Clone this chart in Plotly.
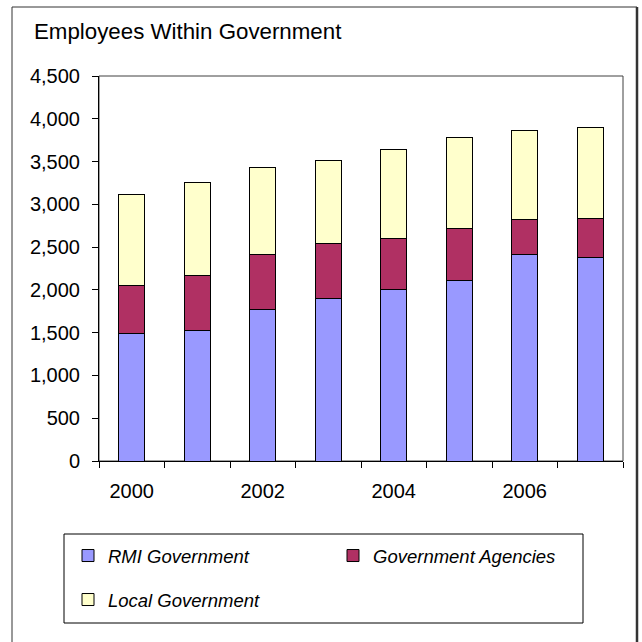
import plotly.graph_objects as go

# Employees within government, by year
years = ["2000", "2001", "2002", "2003", "2004", "2005", "2006", "2007"]
rmi_government = [1485, 1530, 1775, 1895, 2005, 2110, 2410, 2380]
government_agencies = [570, 635, 640, 650, 595, 610, 410, 450]
local_government = [1060, 1085, 1015, 965, 1045, 1065, 1040, 1070]

year_labels = ["2000", "", "2002", "", "2004", "", "2006", ""]
y_ticks = [0, 500, 1000, 1500, 2000, 2500, 3000, 3500, 4000, 4500]

W, H = 642, 642
L, R, T, B = 99, 19, 76, 181
PW, PH = W - L - R, H - T - B

FONT = "Liberation Sans, Arial, sans-serif"


def px_x(x):
    return (x - L) / PW


def px_y(y):
    return (H - B - y) / PH


series = [
    ("RMI Government", rmi_government, "#9999FF", "legend"),
    ("Government Agencies", government_agencies, "#B03063", "legend"),
    ("Local Government", local_government, "#FFFFCC", "legend2"),
]

fig = go.Figure()
for name, vals, color, leg in series:
    fig.add_trace(go.Bar(
        x=years, y=vals, name=name,
        marker=dict(color=color, line=dict(color="#000000", width=1)),
        legend=leg,
    ))

legend_common = dict(
    orientation="h",
    traceorder="normal",
    xref="paper", yref="paper",
    xanchor="left", yanchor="middle",
    font=dict(family=FONT, size=18.5, color="#000000", style="italic"),
    bgcolor="rgba(0,0,0,0)", borderwidth=0,
    itemwidth=30, entrywidth=220, entrywidthmode="pixels",
    itemclick=False, itemdoubleclick=False,
)

shapes = [
    # outer chart frame
    dict(type="line", xref="paper", yref="paper",
         x0=px_x(12), x1=px_x(637), y0=px_y(7), y1=px_y(7),
         line=dict(color="#333333", width=1)),
    dict(type="line", xref="paper", yref="paper",
         x0=px_x(12), x1=px_x(12), y0=px_y(7), y1=px_y(660),
         line=dict(color="#333333", width=1)),
    dict(type="line", xref="paper", yref="paper",
         x0=px_x(637), x1=px_x(637), y0=px_y(7), y1=px_y(660),
         line=dict(color="#333333", width=2.5)),
    # plot area frame
    dict(type="rect", xref="paper", yref="paper",
         x0=0, x1=1, y0=0, y1=1, layer="below",
         line=dict(color="#404040", width=1)),
    # legend box
    dict(type="rect", xref="paper", yref="paper",
         x0=px_x(64), x1=px_x(583), y0=px_y(623), y1=px_y(534),
         line=dict(color="#000000", width=1)),
]

fig.update_layout(
    width=W, height=H,
    margin=dict(l=L, r=R, t=T, b=B),
    paper_bgcolor="#FFFFFF", plot_bgcolor="#FFFFFF",
    barmode="stack", bargap=0.6,
    font=dict(family=FONT, size=20, color="#000000"),
    title=dict(
        text="Employees Within Government",
        font=dict(family=FONT, size=22.3, color="#000000"),
        xref="container", yref="container",
        x=34 / W, xanchor="left",
        y=1 - 31 / H, yanchor="middle",
    ),
    xaxis=dict(
        type="category",
        tickmode="array", tickvals=years, ticktext=year_labels,
        tickson="boundaries",
        ticks="outside", ticklen=6, tickcolor="#000000", tickwidth=1,
        showline=True, linecolor="#000000", linewidth=1,
        showgrid=False, zeroline=False,
        ticklabelstandoff=12,
        tickfont=dict(family=FONT, size=20, color="#000000"),
    ),
    yaxis=dict(
        range=[0, 4500],
        tickmode="array", tickvals=y_ticks,
        tickformat=",",
        ticks="outside", ticklen=6, tickcolor="#000000", tickwidth=1,
        showline=True, linecolor="#000000", linewidth=1,
        showgrid=False, zeroline=False,
        ticklabelstandoff=8,
        tickfont=dict(family=FONT, size=20, color="#000000"),
    ),
    legend=dict(legend_common, x=px_x(68), y=px_y(556)),
    legend2=dict(legend_common, x=px_x(68), y=px_y(600)),
    shapes=shapes,
    showlegend=True,
)

fig.write_html("out.html")
